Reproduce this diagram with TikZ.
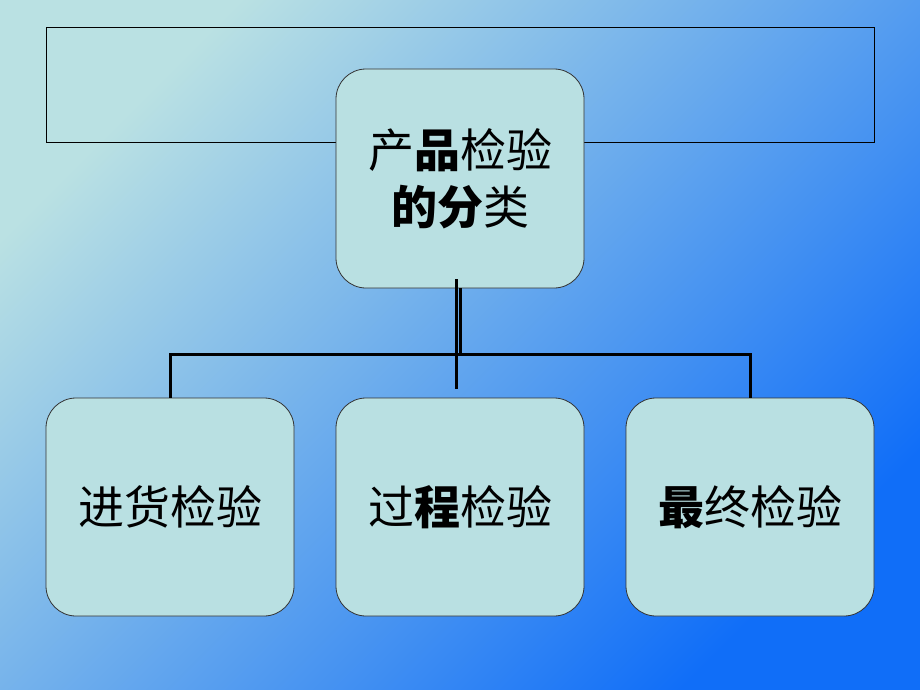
\documentclass[tikz,border=0pt]{standalone}
\usepackage{fontspec}
\newfontfamily\cjk{Noto Sans CJK SC}
\definecolor{bgA}{RGB}{186,225,227}
\definecolor{bgB}{RGB}{136,178,236}
\definecolor{bgC}{RGB}{16,110,248}
\definecolor{boxfill}{RGB}{185,224,226}
\begin{document}
\begin{tikzpicture}[x=1pt,y=-1pt,
  box/.style={draw=black!80, line width=0.8pt, fill=boxfill, rounded corners=30pt,
    minimum width=248pt, minimum height=218pt, inner sep=0pt,
    font=\cjk\fontsize{46}{57}\selectfont, align=center},
  frame/.style={draw=black, line width=0.9pt},
  conn/.style={draw=black, line width=3pt}]
\shade[top color=bgA, middle color=bgB, bottom color=bgC, shading angle=45]
  (0,0) rectangle (920,690);
\useasboundingbox (0,0) rectangle (920,690);
\node[frame, minimum width=828pt, minimum height=115pt, inner sep=0pt] (band) at (460,84.5) {};
\node[box, minimum height=219pt] (top) at (460,178.5) {产{\bfseries 品}检验\\{\bfseries 的分}类};
\node[box] (b1) at (170,507) {\raisebox{-3pt}{进货检验}};
\node[box] (b2) at (460,507) {\raisebox{-3pt}{过{\bfseries 程}检验}};
\node[box] (b3) at (750,507) {\raisebox{-3pt}{{\bfseries 最}终检验}};
\coordinate (bus) at (460,354);
\coordinate (a1) at ([xshift=-4pt,yshift=9pt]top.south);
\coordinate (a2) at ([xshift=-4pt,yshift=9pt]b2.north);
\draw[conn] (b1.north) |- (bus) -| (b3.north);
\draw[conn] (top.south) -- (bus);
\draw[conn] (a1) -- (a2);
\end{tikzpicture}
\end{document}
